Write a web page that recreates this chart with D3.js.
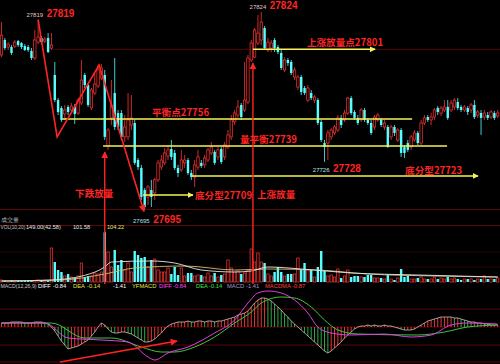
<!DOCTYPE html>
<html>
<head>
<meta charset="utf-8">
<script src="https://cdn.jsdelivr.net/npm/d3@7/dist/d3.min.js"></script>
<style>
  html, body { margin: 0; padding: 0; background: #000; }
  svg { display: block; }
  text { font-family: "Liberation Sans", Arial, sans-serif; }
  .cn { font-family: "Noto Sans CJK SC", sans-serif; font-weight: bold; }
</style>
</head>
<body>
<svg width="500" height="364"></svg>
<script>
// candle data, one entry per bar
const opens = [
  27795.9, 27805.7, 27801.1, 27801.1, 27801.7, 27805.0, 27803.7, 27801.7, 27801.1, 27798.5,
  27793.9, 27804.3, 27807.0, 27805.0, 27807.0, 27800.4, 27782.8, 27766.4, 27761.2, 27757.3,
  27761.9, 27759.9, 27761.9, 27757.9, 27764.5, 27782.8, 27776.2, 27761.2, 27771.0, 27775.6,
  27780.8, 27782.8, 27736.4, 27754.7, 27771.0, 27757.9, 27757.9, 27742.3, 27742.3, 27750.1,
  27751.4, 27727.2, 27722.0, 27707.6, 27703.0, 27707.6, 27705.7, 27714.2, 27722.6, 27725.3,
  27729.8, 27734.4, 27731.8, 27722.0, 27720.7, 27725.3, 27727.2, 27718.7, 27716.1, 27722.6,
  27725.3, 27724.0, 27727.2, 27731.8, 27732.5, 27729.2, 27734.4, 27729.2, 27735.7, 27742.3,
  27752.1, 27756.6, 27763.2, 27759.9, 27765.1, 27792.6, 27794.5, 27803.7, 27805.7, 27813.5,
  27799.1, 27800.4, 27805.7, 27801.1, 27797.2, 27786.1, 27792.6, 27791.3, 27781.5, 27774.9,
  27781.5, 27774.3, 27766.4, 27771.0, 27766.4, 27766.4, 27752.1, 27738.3, 27738.3, 27742.3,
  27744.9, 27746.8, 27754.7, 27753.4, 27757.9, 27767.7, 27758.6, 27754.7, 27753.4, 27759.9,
  27753.4, 27751.4, 27748.8, 27753.4, 27753.4, 27748.8, 27748.8, 27742.3, 27748.8, 27740.3,
  27746.8, 27735.7, 27738.3, 27735.7, 27740.3, 27744.9, 27738.3, 27751.4, 27755.3, 27753.4,
  27755.3, 27761.2, 27757.9, 27759.9, 27761.9, 27759.9, 27761.9, 27765.1, 27761.9, 27759.9,
  27761.2, 27759.9, 27763.2, 27756.6, 27757.9, 27755.3, 27756.6, 27755.3, 27757.9, 27756.0
];
const highs = [
  27817.4, 27807.0, 27804.3, 27802.4, 27805.7, 27805.7, 27804.3, 27803.0, 27802.4, 27800.4,
  27812.2, 27819.0, 27808.3, 27807.6, 27810.2, 27810.2, 27791.3, 27767.7, 27762.5, 27763.2,
  27763.2, 27764.5, 27763.8, 27767.7, 27792.6, 27784.1, 27777.6, 27774.3, 27784.1, 27789.3,
  27790.0, 27786.1, 27748.1, 27779.5, 27793.9, 27759.9, 27759.9, 27756.6, 27771.0, 27769.7,
  27753.4, 27728.5, 27724.0, 27708.9, 27710.9, 27714.2, 27715.5, 27727.2, 27730.5, 27735.1,
  27737.0, 27740.3, 27733.8, 27724.0, 27733.8, 27730.5, 27728.5, 27720.7, 27727.2, 27733.8,
  27727.2, 27730.5, 27735.1, 27739.0, 27733.8, 27735.7, 27735.7, 27739.0, 27746.8, 27756.6,
  27759.9, 27766.4, 27764.5, 27791.3, 27795.9, 27805.7, 27813.5, 27822.0, 27824.0, 27814.8,
  27807.0, 27805.7, 27807.0, 27802.4, 27799.1, 27794.5, 27793.9, 27792.6, 27788.0, 27782.8,
  27782.8, 27775.6, 27776.2, 27773.0, 27769.7, 27767.7, 27753.4, 27740.3, 27746.8, 27748.1,
  27750.1, 27756.6, 27756.6, 27759.9, 27768.4, 27769.1, 27759.9, 27756.6, 27761.2, 27761.2,
  27754.7, 27753.4, 27756.6, 27757.9, 27754.7, 27753.4, 27750.1, 27750.1, 27750.1, 27748.1,
  27748.1, 27737.0, 27740.3, 27743.6, 27746.8, 27746.2, 27753.4, 27756.6, 27756.6, 27757.9,
  27761.2, 27762.5, 27762.5, 27766.4, 27766.4, 27766.4, 27767.7, 27767.7, 27763.2, 27763.2,
  27762.5, 27764.5, 27766.4, 27759.9, 27759.9, 27759.9, 27758.6, 27759.9, 27759.2, 27759.9
];
const lows = [
  27794.5, 27799.1, 27799.1, 27795.9, 27800.4, 27801.1, 27799.8, 27798.5, 27797.8, 27792.6,
  27792.6, 27803.0, 27803.0, 27803.7, 27797.2, 27799.1, 27765.1, 27756.6, 27752.1, 27753.4,
  27756.6, 27757.9, 27750.8, 27756.6, 27763.2, 27774.3, 27761.9, 27759.9, 27769.7, 27774.3,
  27779.5, 27740.3, 27733.8, 27750.1, 27746.8, 27746.8, 27740.3, 27739.0, 27740.3, 27746.8,
  27724.0, 27720.7, 27701.1, 27695.0, 27697.8, 27696.5, 27701.1, 27712.8, 27720.7, 27724.0,
  27727.2, 27727.2, 27720.7, 27716.1, 27719.4, 27722.0, 27717.4, 27714.2, 27709.6, 27720.7,
  27722.0, 27722.0, 27725.9, 27730.5, 27724.0, 27727.2, 27724.6, 27727.2, 27734.4, 27740.3,
  27750.1, 27754.7, 27753.4, 27758.6, 27763.8, 27791.3, 27793.9, 27802.4, 27802.4, 27799.1,
  27797.8, 27797.8, 27797.8, 27796.5, 27786.1, 27784.7, 27788.7, 27782.8, 27779.5, 27773.0,
  27769.7, 27769.7, 27765.1, 27766.4, 27764.5, 27750.1, 27739.0, 27726.0, 27727.2, 27740.3,
  27743.6, 27745.5, 27748.1, 27752.1, 27756.6, 27756.6, 27753.4, 27750.1, 27752.1, 27752.1,
  27750.1, 27743.6, 27746.8, 27752.1, 27748.8, 27746.8, 27735.1, 27740.3, 27742.9, 27739.0,
  27729.2, 27728.5, 27732.5, 27733.8, 27739.0, 27737.0, 27737.0, 27750.1, 27752.1, 27750.1,
  27753.4, 27756.6, 27756.0, 27758.6, 27753.4, 27758.6, 27759.9, 27759.9, 27758.6, 27758.6,
  27756.6, 27757.9, 27754.0, 27754.7, 27743.6, 27753.4, 27753.4, 27754.0, 27753.4, 27754.7
];
const closes = [
  27808.9, 27800.4, 27803.0, 27797.2, 27804.3, 27802.4, 27801.1, 27799.1, 27799.1, 27793.9,
  27805.7, 27807.6, 27804.3, 27806.3, 27797.8, 27802.4, 27766.4, 27758.6, 27753.4, 27759.9,
  27758.6, 27762.5, 27757.3, 27766.4, 27779.5, 27776.2, 27763.2, 27773.0, 27776.9, 27786.1,
  27787.4, 27742.3, 27746.8, 27763.2, 27748.8, 27748.8, 27742.3, 27748.8, 27753.4, 27754.7,
  27725.3, 27722.6, 27703.0, 27696.5, 27709.6, 27703.0, 27714.2, 27725.3, 27727.2, 27731.8,
  27733.8, 27729.2, 27722.0, 27718.7, 27727.2, 27727.2, 27718.7, 27716.1, 27724.0, 27729.2,
  27723.3, 27728.5, 27733.8, 27735.7, 27725.3, 27733.8, 27725.9, 27737.0, 27743.6, 27753.4,
  27757.9, 27761.9, 27755.3, 27766.4, 27793.9, 27803.7, 27812.2, 27810.2, 27817.4, 27800.4,
  27804.3, 27803.7, 27800.4, 27797.8, 27787.4, 27792.6, 27790.6, 27784.1, 27786.1, 27781.5,
  27771.7, 27771.0, 27774.3, 27767.7, 27768.4, 27751.4, 27740.3, 27735.7, 27744.9, 27746.8,
  27748.8, 27754.7, 27750.1, 27757.9, 27767.7, 27757.9, 27754.7, 27751.4, 27759.9, 27753.4,
  27751.4, 27744.9, 27755.3, 27756.6, 27750.1, 27751.4, 27735.7, 27748.8, 27744.9, 27746.8,
  27731.8, 27731.8, 27733.8, 27742.3, 27744.9, 27738.3, 27751.4, 27754.7, 27753.4, 27755.3,
  27759.9, 27758.6, 27761.2, 27761.9, 27754.7, 27764.5, 27766.4, 27761.2, 27759.9, 27761.9,
  27758.6, 27763.2, 27755.3, 27758.6, 27754.7, 27757.9, 27754.7, 27758.6, 27754.7, 27757.9
];
const volumes = [
  6, 4, 3, 5, 3, 4, 3, 3, 4, 3, 5, 6, 4, 3, 4, 102, 60, 36, 30, 18,
  24, 15, 12, 18, 57, 15, 18, 18, 27, 24, 30, 149, 90, 45, 96, 51, 66, 36, 57, 30,
  93, 81, 72, 75, 45, 66, 69, 36, 30, 30, 42, 24, 45, 21, 42, 18, 27, 27, 18, 21,
  21, 15, 27, 18, 27, 15, 21, 24, 66, 42, 30, 33, 24, 27, 36, 99, 60, 87, 60, 57,
  24, 18, 30, 45, 30, 18, 24, 24, 24, 72, 36, 57, 36, 36, 15, 45, 93, 33, 18, 21,
  15, 39, 12, 18, 36, 15, 18, 18, 15, 15, 21, 21, 12, 12, 12, 9, 21, 9, 6, 12,
  39, 15, 18, 9, 9, 12, 15, 9, 9, 9, 15, 9, 12, 9, 15, 9, 12, 9, 6, 9,
  9, 9, 6, 9, 9, 18, 9, 9, 9, 12
];
// volume averages, [bar index, value]
const volMa10 = [[0, 3], [15, 6], [25, 20], [31, 45], [33, 60], [45, 63], [52, 57], [60, 36], [70, 30],
  [75, 33], [80, 45], [90, 39], [105, 27], [125, 21], [149, 15]];
const volMa20 = [[0, 3], [18, 6], [31, 24], [40, 42], [55, 48], [70, 36], [80, 39], [95, 36], [110, 24],
  [130, 18], [149, 15]];

// macd histogram, one per bar
const macdHist = [
  0.4, 0.4, 0.4, 0.5, 0.5, 0.5, 0.5, 0.4, 0.4, 0.4, 0.5, 0.5, 0.5, 0.4, 0.3,
  0, -0.4, -0.9, -1.4, -1.8, -2.2, -2.1, -2.0, -1.9, -1.7, -1.5, -1.3, -0.9, -0.5, 0,
  0.4, 0.2, -0.2, -0.5, -0.6, -0.6, -0.5, -0.5, -0.6, -0.7, -0.9, -1.1, -1.3, -1.5, -1.5, -1.4, -1.2, -0.9, -0.6, -0.2,
  0.1, 0.3, 0.4, 0.5, 0.5, 0.5, 0.6, 0.5, 0.5, 0.6, 0.6, 0.5, 0.6, 0.6, 0.5, 0.6, 0.6, 0.7, 0.8, 0.9, 1.0, 1.2, 1.3, 1.4, 1.6,
  2.0, 2.4, 2.7, 2.9, 2.9, 2.8, 2.6, 2.3, 2.0, 1.7, 1.3, 1.0, 0.6, 0.3, 0, -0.3, -0.6, -0.9, -1.2, -1.5, -1.8, -2.1, -2.4, -2.6,
  -2.4, -2.1, -1.8, -1.5, -1.1, -0.8, -0.5, -0.2, 0,
  0.1, 0.1, 0.2, 0.1, 0.2, 0.1, 0.1, 0.2, 0.1, 0.1, 0, -0.1, -0.2,
  -0.3, -0.3, -0.3, -0.2, 0, 0.2, 0.4, 0.6, 0.7, 0.8, 0.9, 1.0, 1.0, 1.0, 1.0,
  0.9, 0.9, 0.8, 0.7, 0.6, 0.5, 0.5, 0.4, 0.4, 0.3, 0.3, 0.2, 0.2, 0.2
];
// macd lines, [bar index, value]
const diffLine = [[0, 0.4], [13, 0.4], [20, -1.1], [30, -1.3], [38, -1.5], [44, -3.0], [46, -3.3], [50, -2.6],
  [56, -2.0], [64, -0.6], [70, 0.7], [74, 2.4], [77, 3.4], [80, 3.6], [84, 3.4], [88, 2.7], [92, 1.4],
  [95, 0], [99, -0.6], [105, -0.8], [115, -0.7], [123, -1.0], [129, -0.8], [135, 0.2], [140, 0.4], [149, 0.3]];
const deaLine = [[0, 0.4], [15, 0.4], [25, -1.1], [33, -1.1], [42, -2.0], [48, -2.5], [52, -2.5], [58, -2.0],
  [64, -1.0], [70, 0.4], [75, 1.5], [78, 2.4], [84, 3.0], [88, 2.9], [93, 2.0], [97, 0.7], [101, -0.3],
  [107, -0.7], [125, -0.8], [133, -0.5], [140, 0], [149, 0.2]];

const volLabels = ['成交量', 'VOL(10,20)', '149.00(42.58)', '101.58', '104.22'];
const macdLabels = ['MACD(12,26,9)', 'DIFF', '-0.84', 'DEA', '-0.14', '-1.41', 'YFMACD', 'DIFF', '-0.84',
  'DEA', '-0.14', 'MACD', '-1.41', 'MACDMA', '-0.87'];

const svg = d3.select('svg');
const width = +svg.attr('width');
const height = +svg.attr('height');

const RED = '#ff3434';
const CYAN = '#54ffff';
const ANNO = '#ff2424';
const YELLOW = '#f4f456';
const GRID = '#5a0606';

svg.append('rect').attr('width', width).attr('height', height).attr('fill', '#000');

const n = closes.length;
const xScale = d3.scaleLinear().domain([0, n - 1]).range([1.5, 497.7]);
const yScale = d3.scaleLinear().domain([27694.5, 27825.3]).range([210, 10]);
const volScale = d3.scaleLinear().domain([0, 150]).range([282, 232]);
const macdScale = d3.scaleLinear().domain([-4, 4]).range([367, 287]);

const defs = svg.append('defs');
const addArrow = (id, color, size) => defs.append('marker')
  .attr('id', id).attr('viewBox', '0 0 10 10')
  .attr('refX', 9).attr('refY', 5)
  .attr('markerWidth', size).attr('markerHeight', size)
  .attr('markerUnits', 'userSpaceOnUse').attr('orient', 'auto')
  .append('path').attr('d', 'M0,0L10,5L0,10Z').attr('fill', color);
addArrow('arrowY', YELLOW, 6);
addArrow('arrowR', ANNO, 7);

//* grid lines
const grid = svg.append('g').attr('stroke', GRID).attr('stroke-width', 1);
[209.5, 225.5].forEach(y => grid.append('line').attr('x1', 0).attr('x2', width).attr('y1', y).attr('y2', y));
grid.append('line').attr('x1', xScale(15.5)).attr('x2', width)
  .attr('y1', yScale(27799.6)).attr('y2', yScale(27799.6));
[90, 45].forEach(v => grid.append('line').attr('x1', 0).attr('x2', width)
  .attr('y1', volScale(v)).attr('y2', volScale(v)).attr('stroke', '#300303'));
[1.8, 0, -1.8, -3.5].forEach(v => grid.append('line').attr('x1', 0).attr('x2', width)
  .attr('y1', macdScale(v)).attr('y2', macdScale(v)));

const candles = d3.range(n).map(i => ({
  i, o: opens[i], h: highs[i], l: lows[i], c: closes[i], v: volumes[i]
}));
const up = d => d.c >= d.o;
const bodyW = 2.4;

//* candles
const cg = svg.append('g');
cg.selectAll('line').data(candles).enter().append('line')
  .attr('x1', d => xScale(d.i)).attr('x2', d => xScale(d.i))
  .attr('y1', d => yScale(d.h)).attr('y2', d => yScale(d.l))
  .attr('stroke', d => up(d) ? RED : CYAN).attr('stroke-width', 0.8);
cg.selectAll('rect').data(candles).enter().append('rect')
  .attr('x', d => xScale(d.i) - bodyW / 2)
  .attr('y', d => yScale(Math.max(d.o, d.c)))
  .attr('width', bodyW)
  .attr('height', d => Math.max(0.8, Math.abs(yScale(d.o) - yScale(d.c))))
  .attr('fill', d => up(d) ? '#000' : CYAN)
  .attr('stroke', d => up(d) ? RED : 'none')
  .attr('stroke-width', 0.7);

//* volume bars
svg.append('g').selectAll('rect').data(candles).enter().append('rect')
  .attr('x', d => xScale(d.i) - bodyW / 2)
  .attr('y', d => volScale(d.v))
  .attr('width', bodyW)
  .attr('height', d => volScale(0) - volScale(d.v))
  .attr('fill', d => up(d) ? '#000' : CYAN)
  .attr('stroke', d => up(d) ? RED : 'none')
  .attr('stroke-width', 0.7);

const volLine = d3.line().x(d => xScale(d[0])).y(d => volScale(d[1])).curve(d3.curveMonotoneX);
svg.append('path').attr('d', volLine(volMa20)).attr('fill', 'none').attr('stroke', '#c8c070').attr('stroke-width', 0.9);
svg.append('path').attr('d', volLine(volMa10)).attr('fill', 'none').attr('stroke', '#e6e6e6').attr('stroke-width', 0.9);

//* macd histogram
svg.append('g').selectAll('line').data(macdHist).enter().append('line')
  .attr('x1', (d, i) => xScale(i)).attr('x2', (d, i) => xScale(i))
  .attr('y1', macdScale(0)).attr('y2', d => macdScale(d))
  .attr('stroke', (d, i) => (i === 0 || d >= macdHist[i - 1]) ? '#e03a3a' : '#2ea84a')
  .attr('stroke-width', 1);
svg.append('path')
  .attr('d', d3.line().x((d, i) => xScale(i)).y(d => macdScale(d))(macdHist))
  .attr('fill', 'none').attr('stroke', '#f0d4d4').attr('stroke-width', 0.7);
const macdLine = d3.line().x(d => xScale(d[0])).y(d => macdScale(d[1])).curve(d3.curveMonotoneX);
svg.append('path').attr('d', macdLine(deaLine)).attr('fill', 'none').attr('stroke', '#3cc83c').attr('stroke-width', 1);
svg.append('path').attr('d', macdLine(diffLine)).attr('fill', 'none').attr('stroke', '#e040e0').attr('stroke-width', 1);

//* yellow level lines
const levels = [
  { p: 27799.6, from: 75.5, to: 112.2, arrow: true },
  { p: 27754.0, from: 18.2, to: 123.3, arrow: false },
  { p: 27736.4, from: 30.5, to: 133.8, arrow: false },
  { p: 27716.8, from: 57.2, to: 143.1, arrow: true },
  { p: 27704.3, from: 42.5, to: 57.5, arrow: true }
];
svg.append('g').selectAll('line').data(levels).enter().append('line')
  .attr('x1', d => xScale(d.from)).attr('x2', d => xScale(d.to))
  .attr('y1', d => yScale(d.p)).attr('y2', d => yScale(d.p))
  .attr('stroke', YELLOW).attr('stroke-width', 1.5)
  .attr('marker-end', d => d.arrow ? 'url(#arrowY)' : null);

//* red annotation lines
const zigzag = [[11, 27819], [16.7, 27742.3], [29.3, 27789.3], [42.8, 27693.5]];
svg.append('path')
  .attr('d', d3.line().x(d => xScale(d[0])).y(d => yScale(d[1]))(zigzag))
  .attr('fill', 'none').attr('stroke', ANNO).attr('stroke-width', 1.6)
  .attr('marker-end', 'url(#arrowR)');
[{ i: 31, p: 27732.5 }, { i: 75.5, p: 27790.6 }].forEach(d => {
  svg.append('line')
    .attr('x1', xScale(d.i)).attr('x2', xScale(d.i))
    .attr('y1', volScale(0) + 2).attr('y2', yScale(d.p))
    .attr('stroke', ANNO).attr('stroke-width', 1.4)
    .attr('marker-end', 'url(#arrowR)');
});
svg.append('line')
  .attr('x1', xScale(17.6)).attr('y1', macdScale(-3.5))
  .attr('x2', xScale(52.7)).attr('y2', macdScale(-1.4))
  .attr('stroke', ANNO).attr('stroke-width', 1.6)
  .attr('marker-end', 'url(#arrowR)');

//* extreme point labels
const extremes = [
  { i: 11, p: 27819, text: '27819', dy: -3, small: '#e8c4c4' },
  { i: 78, p: 27824, text: '27824', dy: -2.5, small: '#e8c4c4' },
  { i: 97, p: 27726, text: '27728', small: '#b8e8e8', dy: 10.5, smallText: '27726' },
  { i: 43, p: 27695, text: '27695', small: '#a8e0f0', dy: 14 }
];
extremes.forEach(d => {
  svg.append('text').attr('x', xScale(d.i) + 5).attr('y', yScale(d.p) + d.dy)
    .attr('text-anchor', 'end').attr('font-size', 6).attr('fill', d.small)
    .text(d.smallText || d.text);
  svg.append('text').attr('x', xScale(d.i) + 8.5).attr('y', yScale(d.p) + d.dy)
    .attr('font-size', 10).attr('font-weight', 'bold').attr('fill', ANNO)
    .text(d.text);
});

//* chinese notes
const notes = [
  { i: 91.7, p: 27801.7, text: '上涨放量点27801' },
  { i: 45.2, p: 27756.0, text: '平衡点27756' },
  { i: 71.6, p: 27738.3, text: '量平衡27739' },
  { i: 121.2, p: 27718.1, text: '底分型27723' },
  { i: 58.1, p: 27701.7, text: '底分型27709' },
  { i: 22.1, p: 27703.0, text: '下跌放量' },
  { i: 76.7, p: 27702.4, text: '上涨放量' }
];
svg.append('g').selectAll('text').data(notes).enter().append('text')
  .attr('class', 'cn')
  .attr('x', d => xScale(d.i)).attr('y', d => yScale(d.p))
  .attr('font-size', 9.6).attr('fill', ANNO)
  .text(d => d.text);

//* panel captions
const volX = [0.5, 0.5, 26, 73, 107];
const volY = [222, 229, 229, 229, 229];
const volSize = [5.5, 4.8, 5.6, 5.6, 5.6];
const volColors = ['#b0b0b0', '#c0c0c0', '#e8e8e8', '#e8e8e8', '#e8e870'];
svg.append('g').selectAll('text').data(volLabels).enter().append('text')
  .attr('x', (d, i) => volX[i]).attr('y', (d, i) => volY[i])
  .attr('font-size', (d, i) => volSize[i]).attr('fill', (d, i) => volColors[i])
  .text(d => d);

const macdX = [0.5, 38, 53, 73, 87, 113, 132, 159, 173, 196, 209, 227, 246, 265, 292];
const macdColors = ['#c8c8c8', '#ffffff', '#ffffff', '#e6e640', '#e6e640', '#ffffff', '#e6e640',
  '#ff44ff', '#ff44ff', '#44e044', '#44e044', '#a898c8', '#a898c8', '#ff4040', '#ff4040'];
svg.append('g').selectAll('text').data(macdLabels).enter().append('text')
  .attr('x', (d, i) => macdX[i]).attr('y', 288)
  .attr('font-size', (d, i) => i === 0 ? 5.2 : 5.8).attr('fill', (d, i) => macdColors[i])
  .text(d => d);
</script>
</body>
</html>
